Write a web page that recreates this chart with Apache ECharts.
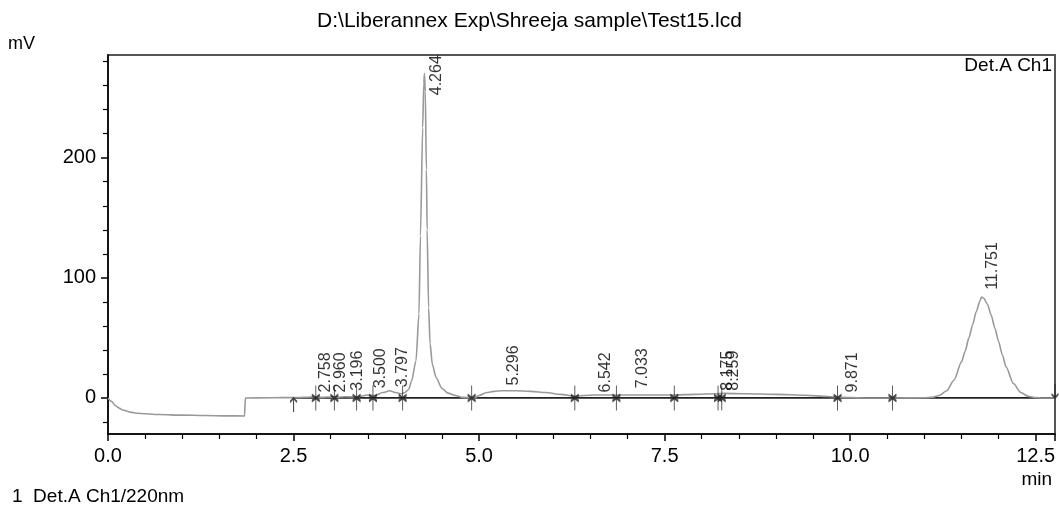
<!DOCTYPE html>
<html><head><meta charset="utf-8">
<script src="https://cdn.jsdelivr.net/npm/echarts@6/dist/echarts.min.js"></script>
<style>html,body{margin:0;padding:0;background:#fff}#c{width:1059px;height:510px}</style>
</head><body><div id="c"></div>
<script>
// ---- data ----
const traceTime = [0, 0.05, 0.1, 0.15, 0.2, 0.3, 0.4, 0.5, 0.7, 1.0, 1.3, 1.6, 1.84, 1.85, 2.2,
  2.5, 2.758, 2.86, 2.96, 3.08, 3.196, 3.35, 3.5, 3.6, 3.7, 3.797, 3.88, 3.95, 4.0, 4.05,
  4.09, 4.15, 4.19, 4.21, 4.24, 4.255, 4.264, 4.275, 4.29, 4.30, 4.32, 4.34, 4.37, 4.42, 4.5,
  4.58, 4.68, 4.78, 4.9, 4.95, 5.0, 5.1, 5.2, 5.3, 5.5, 5.7, 5.9, 6.1, 6.29, 6.54,
  6.8, 7.03, 7.3, 7.63, 7.9, 8.175, 8.3, 8.6, 9.0, 9.4, 9.7, 9.871, 10.2, 10.57, 11.0,
  11.1, 11.2, 11.3, 11.4, 11.5, 11.55, 11.6, 11.65, 11.7, 11.75, 11.77, 11.8, 11.85, 11.9, 11.95,
  12.0, 12.05, 12.1, 12.2, 12.3, 12.4, 12.5, 12.6, 12.76];
const traceMv = [0, -3, -6.5, -8.5, -10, -11.8, -12.7, -13.2, -13.8, -14.3, -14.6, -14.9, -15, 0, 0.2,
  0.3, 0.8, 0.5, 0.8, 0.5, 1.0, 0.8, 2.5, 2.0, 4.5, 6.0, 4.5, 3.5, 4.5, 7,
  14, 31, 70, 135, 225, 262, 270, 255, 190, 140, 75, 45, 28, 17, 8,
  4, 2, 0.5, 0, 0.5, 2, 4.5, 5.5, 6, 6, 5.5, 4.5, 3, 1.5, 2.5,
  2.5, 2.5, 2.5, 2.5, 3, 3.5, 3.8, 3.5, 3, 2.3, 1.2, 0.5, 0, 0, 0.2,
  0.6, 2, 6, 15, 30, 39, 50, 61, 72, 81, 84, 83, 78, 69, 58,
  47, 36, 26, 12, 4.5, 1.3, 0.3, 0, 0];

const peakTimes   = [2.758, 2.960, 3.196, 3.500, 3.797, 4.264, 5.296, 6.542, 7.033, 8.175, 8.259, 9.871, 11.751];
const peakNames   = ['2.758', '2.960', '3.196', '3.500', '3.797', '4.264', '5.296', '6.542', '7.033', '8.175', '8.259', '9.871', '11.751'];
const peakLabelAt = [4.6, 4.6, 6, 8, 9, 252, 10.4, 4.6, 8, 6, 6, 4.6, 90];

const markerTimes = [2.80, 3.05, 3.35, 3.57, 3.97, 4.90, 6.29, 6.85, 7.63, 8.22, 8.27, 9.83, 10.57];
const startArrowTime = 2.5;
const endArrowTime = 12.76;
const baselineRange = [2.5, 12.76];

const xTickLabels = [0, 2.5, 5.0, 7.5, 10.0, 12.5];
const yMajor = [0, 100, 200];
const yMinor = [-20, 20, 40, 60, 80, 120, 140, 160, 180, 220, 240, 260, 280];

const titleText = 'D:\\Liberannex Exp\\Shreeja sample\\Test15.lcd';

// ---- chart ----
const FONT = '"Liberation Sans", Arial, sans-serif';
const INK = '#000';
const chart = echarts.init(document.getElementById('c'));

const option = {
  animation: false,
  textStyle: { fontFamily: FONT },
  title: {
    text: titleText, left: 'center', top: 6,
    textStyle: { fontSize: 21, fontWeight: 'normal', color: INK, fontFamily: FONT }
  },
  grid: { left: 108, right: 4, top: 55, bottom: 76, show: true, borderColor: '#555', borderWidth: 2 },
  xAxis: {
    type: 'value', min: 0, max: 12.76, interval: 2.5,
    axisLine: { show: true, onZero: false, lineStyle: { color: INK, width: 1.5 } },
    axisTick: { show: true, length: 7, lineStyle: { color: INK, width: 1.5 } },
    minorTick: { show: true, splitNumber: 5, length: 5, lineStyle: { color: INK, width: 1.2 } },
    splitLine: { show: false },
    axisLabel: { fontSize: 20, color: INK, margin: 12, showMaxLabel: false,
      formatter: v => xTickLabels.indexOf(v) >= 0 ? v.toFixed(1) : '' }
  },
  yAxis: [{
    type: 'value', min: -30, max: 285.5,
    axisLine: { show: true, onZero: false, lineStyle: { color: INK, width: 1.5 } },
    axisTick: { show: true, length: 7, customValues: yMajor, lineStyle: { color: INK, width: 1.5 } },
    axisLabel: { customValues: yMajor, fontSize: 20, color: INK, margin: 12 },
    splitLine: { show: false }
  }, {
    type: 'value', min: -30, max: 285.5, position: 'left',
    axisLine: { show: false },
    axisTick: { show: true, length: 5, customValues: yMinor, lineStyle: { color: INK, width: 1.2 } },
    axisLabel: { show: false },
    splitLine: { show: false }
  }],
  graphic: [
    { type: 'text', left: 8, top: 35, style: { text: 'mV', font: '18px ' + FONT, fill: INK } },
    { type: 'text', right: 7, top: 470, style: { text: 'min', font: '19px ' + FONT, fill: INK } },
    { type: 'text', right: 7, top: 56, style: { text: 'Det.A Ch1', font: '19px ' + FONT, fill: INK } },
    { type: 'text', left: 12, top: 487, style: { text: '1  Det.A Ch1/220nm', font: '19px ' + FONT, fill: INK } }
  ],
  series: [
    {
      type: 'line', name: 'baseline', z: 2, symbol: 'none', silent: true,
      data: baselineRange.map(t => [t, 0]),
      lineStyle: { color: '#222', width: 1.8 }
    },
    {
      type: 'line', name: 'Det.A Ch1', z: 3, showSymbol: false, symbol: 'none', smooth: 0.25, smoothMonotone: 'x',
      data: traceTime.map((t, i) => [t, traceMv[i]]),
      lineStyle: { color: '#999', width: 1.6 }
    },
    {
      type: 'scatter', name: 'markers', z: 4, silent: true, clip: false,
      symbol: 'path://M0,0 L0,24 M-3,9 L3,15 M3,9 L-3,15',
      symbolSize: [8, 25],
      itemStyle: { color: 'rgba(0,0,0,0)', borderColor: '#222', borderWidth: 1.6 },
      data: markerTimes.map(t => [t, 0])
    },
    {
      type: 'scatter', name: 'start', z: 4, silent: true, clip: false,
      symbol: 'path://M0,0 L0,14 M-3,4 L0,0 L3,4',
      symbolSize: [7, 14], symbolOffset: [0, 7],
      itemStyle: { color: 'rgba(0,0,0,0)', borderColor: '#222', borderWidth: 1.6 },
      data: [[startArrowTime, 0]]
    },
    {
      type: 'scatter', name: 'end', z: 4, silent: true, clip: false,
      symbol: 'path://M0,0 L0,14 M-3,10 L0,14 L3,10',
      symbolSize: [7, 14], symbolOffset: [0, -7],
      itemStyle: { color: 'rgba(0,0,0,0)', borderColor: '#222', borderWidth: 1.6 },
      data: [[endArrowTime, 0]]
    },
    {
      type: 'scatter', name: 'peaks', z: 5, silent: true, clip: false,
      symbolSize: 0,
      data: peakTimes.map((t, i) => ({ value: [t, peakLabelAt[i]], name: peakNames[i] })),
      label: {
        show: true, formatter: p => p.name, rotate: 90, position: 'inside',
        align: 'left', verticalAlign: 'middle', offset: [0, 12.5],
        fontSize: 16, color: INK, fontFamily: FONT
      }
    }
  ]
};
chart.setOption(option);
</script>
</body></html>
